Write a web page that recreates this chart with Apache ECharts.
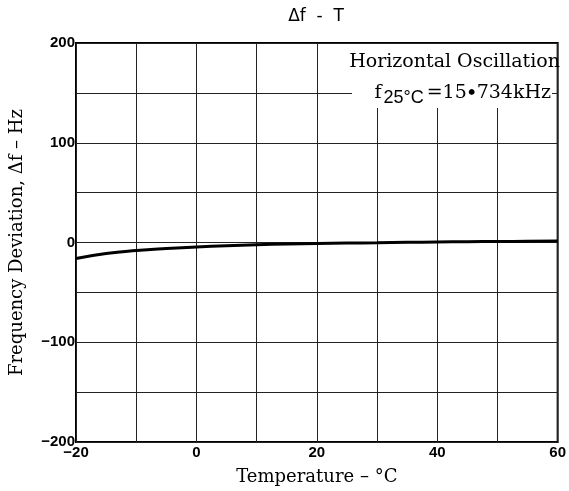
<!DOCTYPE html>
<html>
    <head>
        <meta charset="utf-8">
        <script src="https://cdn.jsdelivr.net/npm/echarts@6/dist/echarts.min.js"></script>
    </head>
    <body>
        <style>
            html, body, #main {
                width: 100%;
                height: 100%;
                margin: 0;
                background: #fff;
            }
        </style>
        <div id="main"></div>

        <script>
            // temperature (°C) and frequency deviation (Hz)
            var temps = [-20, -15, -10, -5, 0, 5, 10, 15, 20, 25, 30, 35, 40, 45, 50, 55, 60];
            var deviation = [-16, -11, -8, -6, -4.5, -3.2, -2.2, -1.5, -1, -0.6, -0.2, 0.2, 0.5, 0.8, 1, 1.2, 1.5];

            var xLabels = [-20, 0, 20, 40, 60];
            var yLabels = [-200, -100, 0, 100, 200];

            var chart = echarts.init(document.getElementById('main'));

            var serif = '"DejaVu Serif", "Liberation Serif", serif';
            var sans = '"Liberation Sans", Arial, sans-serif';

            function minus(v) {
                return String(v).replace('-', '\u2212');
            }

            chart.setOption({
                animation: false,
                title: {
                    text: '\u0394f  -  T',
                    left: 311,
                    top: 3,
                    textAlign: 'center',
                    textStyle: {
                        fontFamily: '"DejaVu Sans", sans-serif',
                        fontWeight: 'normal',
                        fontSize: 17,
                        color: '#000'
                    }
                },
                grid: {
                    left: 76,
                    right: 6,
                    top: 43,
                    bottom: 45,
                    show: true,
                    borderColor: '#000',
                    borderWidth: 2
                },
                xAxis: {
                    type: 'value',
                    min: -20,
                    max: 60,
                    interval: 10,
                    name: 'Temperature \u2013 \u00b0C',
                    nameLocation: 'middle',
                    nameGap: 26,
                    nameTextStyle: {
                        fontFamily: serif,
                        fontSize: 18,
                        color: '#000'
                    },
                    axisLine: {show: false},
                    axisTick: {show: false},
                    axisLabel: {
                        margin: 3,
                        fontFamily: sans,
                        fontWeight: 'bold',
                        fontSize: 15,
                        color: '#000',
                        formatter: function (v) {
                            return xLabels.indexOf(v) >= 0 ? minus(v) : '';
                        }
                    },
                    splitLine: {lineStyle: {color: '#222', width: 1}}
                },
                yAxis: {
                    type: 'value',
                    min: -200,
                    max: 200,
                    interval: 50,
                    name: 'Frequency Deviation, \u0394f \u2013 Hz',
                    nameLocation: 'middle',
                    nameGap: 50,
                    nameTextStyle: {
                        fontFamily: serif,
                        fontSize: 18,
                        color: '#000'
                    },
                    axisLine: {show: false},
                    axisTick: {show: false},
                    axisLabel: {
                        margin: 1,
                        fontFamily: sans,
                        fontWeight: 'bold',
                        fontSize: 15,
                        color: '#000',
                        formatter: function (v) {
                            return yLabels.indexOf(v) >= 0 ? minus(v) : '';
                        }
                    },
                    splitLine: {lineStyle: {color: '#222', width: 1}}
                },
                graphic: [{
                    type: 'rect',
                    shape: {x: 352, y: 44, width: 200, height: 64},
                    style: {fill: '#fff'},
                    z: 10
                }, {
                    type: 'text',
                    x: 560,
                    y: 62,
                    z: 11,
                    style: {
                        text: 'Horizontal Oscillation',
                        align: 'right',
                        verticalAlign: 'middle',
                        font: '19px ' + serif,
                        fill: '#000'
                    }
                }, {
                    type: 'text',
                    x: 551,
                    y: 93,
                    z: 11,
                    style: {
                        text: 'f{sub|25\u00b0C}=15{dot|\u2219}734kHz',
                        align: 'right',
                        verticalAlign: 'middle',
                        font: '19px ' + serif,
                        fill: '#000',
                        rich: {
                            sub: {
                                font: '18px ' + sans,
                                verticalAlign: 'bottom',
                                padding: [10, 3, 0, 2],
                                fill: '#000'
                            },
                            dot: {
                                font: 'bold 19px ' + serif,
                                fill: '#000'
                            }
                        }
                    }
                }],
                series: [{
                    type: 'line',
                    data: temps.map(function (t, i) {
                        return [t, deviation[i]];
                    }),
                    smooth: true,
                    symbol: 'none',
                    lineStyle: {color: '#000', width: 3}
                }]
            });

            window.onresize = chart.resize;
        </script>
    </body>
</html>
